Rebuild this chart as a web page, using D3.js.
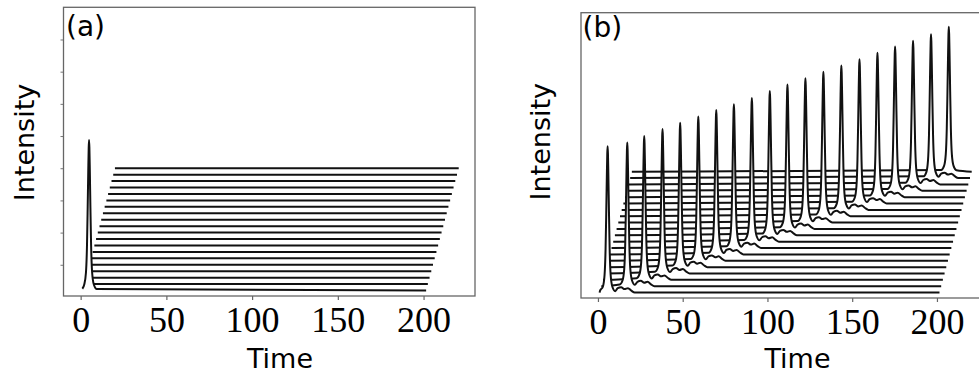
<!DOCTYPE html>
<html>
<head>
<meta charset="utf-8">
<script src="https://cdn.jsdelivr.net/npm/d3@7"></script>
<style>
  html, body { margin: 0; padding: 0; background: #fff; }
  svg { display: block; }
</style>
</head>
<body>
<svg id="chart" width="979" height="374"></svg>
<script>
// ---------------- data ----------------
const xTicks = [0, 50, 100, 150, 200];
const yTicksA = [4, 9, 14, 19, 24, 29, 34, 39];
const traces = [0, 1, 2, 3, 4, 5, 6, 7, 8, 9, 10, 11, 12, 13, 14, 15, 16, 17, 18, 19];
const traceStepTime = 1;      // horizontal shift of successive traces (time units)
const traceStepLevel = 1;     // vertical shift of successive traces (intensity units)
const spanStart = 1;
const spanEnd = 201.5;

// pulse shape (relative time, fraction of peak height)
const pulseDt  = [-4.5, -2.8, -1.8, -1.2, -0.8, -0.45, -0.2, 0, 0.2, 0.45, 0.8, 1.2, 1.8, 2.8, 4.5];
const pulseVal = [0.012, 0.04, 0.12, 0.3, 0.55, 0.8, 0.95, 1, 0.95, 0.8, 0.55, 0.3, 0.12, 0.04, 0.01];

// trailing ripple after each pulse in panel (b) (relative time, intensity units)
const rippleDt  = [6, 8, 10, 12, 14, 16];
const rippleVal = [0.7, 0.85, 0.55, 0.7, 0.3, 0];

// panel (a): only the first trace carries a pulse
const peakTraceA = [0];
const peakTimesA = [4.9];
const peakHeightsA = [23.4];

// panel (b): every trace carries a pulse
const peakTimesB = [5.7, 16.3, 25.3, 35.1, 44.5, 54.2, 63.8, 73.2, 82.8, 92.4,
                    101.8, 111.4, 121.0, 130.6, 140.3, 149.9, 159.3, 168.9, 178.5, 188.0];
const peakHeightsB = [23.0, 22.6, 22.6, 22.7, 22.7, 22.7, 22.7, 22.6, 22.6, 22.7,
                      22.7, 22.7, 22.7, 22.7, 22.7, 22.7, 22.7, 22.6, 22.6, 22.8];

// ---------------- drawing ----------------
const svg = d3.select("#chart");

function tracePoints(i, peakT, peakH, withRipple) {
  const pts = [];
  const t0 = spanStart, t1 = spanEnd;
  const pk = [];
  if (peakT !== null) {
    pulseDt.forEach((d, k) => pk.push([peakT + d, peakH * pulseVal[k]]));
    if (withRipple) {
      // ripple only where the whole ripple fits inside the trace window
      const last = peakT + rippleDt[rippleDt.length - 1];
      if (last < t1 - 1) rippleDt.forEach((d, k) => pk.push([peakT + d, rippleVal[k]]));
    }
  }
  const inside = pk.filter(p => p[0] > t0 && p[0] < t1);
  let v0 = 0;
  if (pk.length && pk[0][0] <= t0) {
    const before = pk.filter(p => p[0] <= t0);
    v0 = before[before.length - 1][1];
  }
  pts.push([t0, v0]);
  inside.forEach(p => pts.push(p));
  pts.push([t1, 0]);
  return pts.map(p => [p[0] + i * traceStepTime, p[1] + i * traceStepLevel]);
}

function panel(opts) {
  const g = svg.append("g");
  const x = d3.scaleLinear().domain([-10, 230]).range([opts.left, opts.right]);
  const y = d3.scaleLinear().domain([-0.85, 44]).range([opts.bottom, opts.top]);

  const clipId = "clip" + opts.name;
  svg.append("clipPath").attr("id", clipId)
    .append("rect").attr("x", opts.left).attr("y", opts.top)
    .attr("width", opts.right - opts.left).attr("height", opts.bottom - opts.top);

  const plot = g.append("g").attr("clip-path", `url(#${clipId})`);
  const line = d3.line().x(d => x(d[0])).y(d => y(d[1])).curve(d3.curveMonotoneX);
  const area = d3.area().x(d => x(d[0])).y0(d => y(d.base)).y1(d => y(d[1])).curve(d3.curveMonotoneX);

  const order = traces.slice().reverse();
  order.forEach(i => {
    const pts = opts.points(i);
    pts.forEach(p => p.base = i * traceStepLevel);
    plot.append("path").attr("d", area(pts)).attr("fill", "#fff").attr("stroke", "none");
    plot.append("path").attr("d", line(pts)).attr("fill", "none")
      .attr("stroke", "#111").attr("stroke-width", 2).attr("stroke-linejoin", "round");
  });

  const ax = g.append("g").attr("transform", `translate(0,${opts.bottom})`)
    .call(d3.axisBottom(x).tickValues(xTicks).tickSize(4).tickFormat(d3.format("d")));
  ax.select(".domain").remove();
  ax.selectAll(".tick line").attr("stroke", "#666").attr("stroke-width", 1.2);
  ax.selectAll(".tick text").attr("y", 35.5).attr("dy", 0)
    .attr("font-family", "'Liberation Serif', 'Times New Roman', serif")
    .attr("font-size", 36).attr("fill", "#000");

  if (opts.yTicks) {
    const ay = g.append("g").attr("transform", `translate(${opts.left},0)`)
      .call(d3.axisLeft(y).tickValues(opts.yTicks).tickSize(3).tickFormat(""));
    ay.select(".domain").remove();
    ay.selectAll(".tick line").attr("stroke", "#777").attr("stroke-width", 1);
  }

  g.append("rect").attr("x", opts.left).attr("y", opts.top)
    .attr("width", opts.right - opts.left).attr("height", opts.bottom - opts.top)
    .attr("fill", "none").attr("stroke", "#666").attr("stroke-width", 1.3);

  g.append("text").attr("x", opts.timeX).attr("y", 368)
    .attr("text-anchor", "middle")
    .attr("font-family", "'DejaVu Sans', sans-serif").attr("font-size", 27)
    .text("Time");
  g.append("text").attr("transform", `translate(${opts.intX},${opts.intY}) rotate(-90)`)
    .attr("text-anchor", "middle")
    .attr("font-family", "'DejaVu Sans', sans-serif").attr("font-size", 27)
    .text("Intensity");
  g.append("text").attr("x", opts.tagX).attr("y", opts.tagY)
    .attr("font-family", "'DejaVu Sans', sans-serif").attr("font-size", 28)
    .text(opts.tag);
}

panel({
  name: "A", left: 63.5, right: 475, top: 7.3, bottom: 296,
  yTicks: yTicksA, timeX: 280, intX: 33.5, intY: 142.5,
  tag: "(a)", tagX: 66, tagY: 36,
  points: i => {
    const k = peakTraceA.indexOf(i);
    return k >= 0 ? tracePoints(i, peakTimesA[k], peakHeightsA[k], false)
                  : tracePoints(i, null, 0, false);
  }
});

panel({
  name: "B", left: 581, right: 987.8, top: 12.7, bottom: 298,
  yTicks: null, timeX: 797.5, intX: 550, intY: 141.7,
  tag: "(b)", tagX: 582.5, tagY: 37,
  points: i => tracePoints(i, peakTimesB[i], peakHeightsB[i], true)
});
</script>
</body>
</html>
